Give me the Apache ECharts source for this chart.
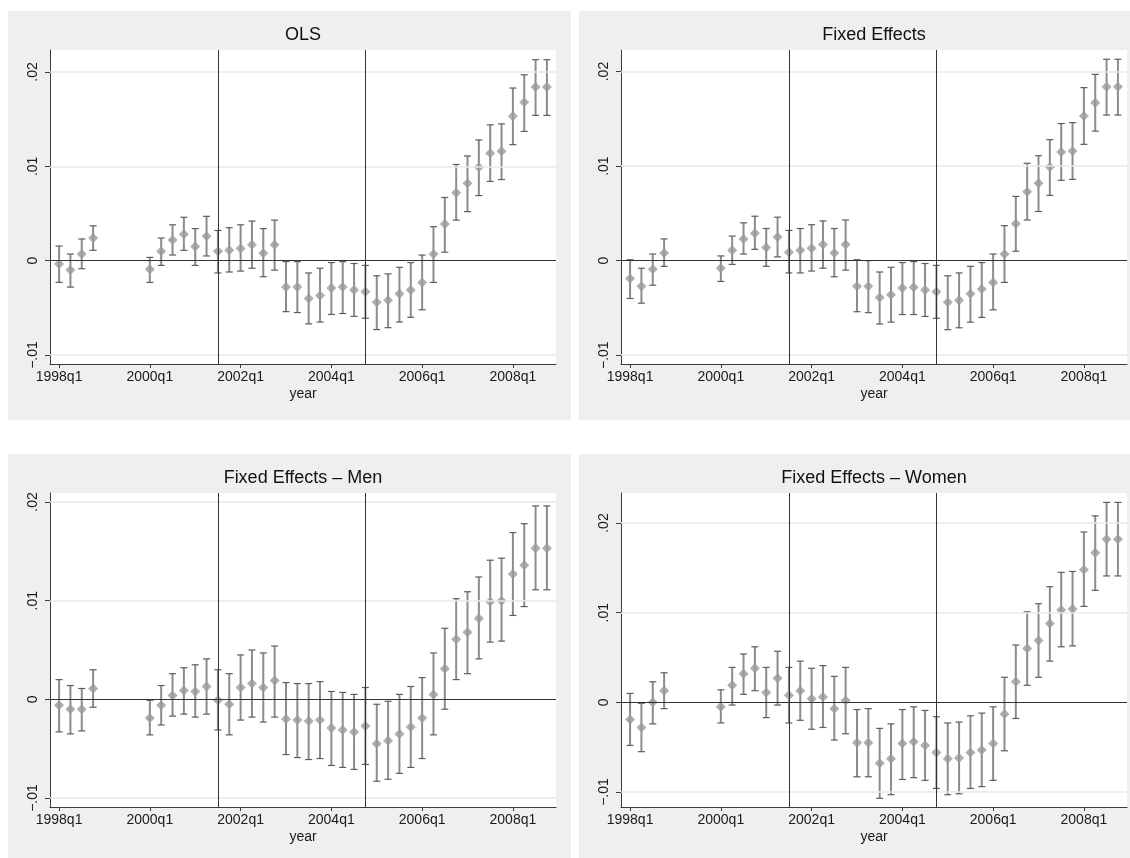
<!DOCTYPE html>
<html>
<head>
<meta charset="utf-8">
<title>Quarterly coefficients</title>
<script src="https://cdn.jsdelivr.net/npm/echarts@6/dist/echarts.min.js"></script>
<style>
  html, body { margin: 0; padding: 0; background: #ffffff; }
  #chart { width: 1130px; height: 858px; }
</style>
</head>
<body>
<div id="chart"></div>
<script>
// Quarters with estimates (1999 is not estimated)
const quarters = [
  '1998q1','1998q2','1998q3','1998q4',
  '2000q1','2000q2','2000q3','2000q4',
  '2001q1','2001q2','2001q3','2001q4',
  '2002q1','2002q2','2002q3','2002q4',
  '2003q1','2003q2','2003q3','2003q4',
  '2004q1','2004q2','2004q3','2004q4',
  '2005q1','2005q2','2005q3','2005q4',
  '2006q1','2006q2','2006q3','2006q4',
  '2007q1','2007q2','2007q3','2007q4',
  '2008q1','2008q2','2008q3','2008q4'
];

// Axis tick labels
const xTickLabels = ['1998q1','2000q1','2002q1','2004q1','2006q1','2008q1'];
const yTickValues = [-0.01, 0, 0.01, 0.02];
// Reference dates marked with vertical lines
const refQuarters = ['2001q3','2004q4'];

// OLS
const olsEst = [-0.00035,-0.001,0.0007,0.0024,
  -0.0009,0.001,0.0022,0.0028,0.0015,0.0026,0.001,0.0011,0.0013,0.0017,0.0008,0.0017,
  -0.0028,-0.0028,-0.004,-0.0037,-0.0029,-0.0028,-0.0031,-0.0033,-0.0044,-0.0042,-0.0035,-0.0031,
  -0.0023,0.0007,0.0039,0.0072,0.0082,0.0099,0.0114,0.0116,0.0153,0.0168,0.0184,0.0184];
const olsLo = [-0.0023,-0.0028,-0.00085,0.0011,
  -0.0023,-0.0005,0.0006,0.0011,-0.0005,0.0005,-0.0013,-0.0012,-0.0011,-0.0008,-0.0017,-0.001,
  -0.0054,-0.0055,-0.0067,-0.0065,-0.0057,-0.0056,-0.0059,-0.0061,-0.0073,-0.0071,-0.0065,-0.006,
  -0.0052,-0.0023,0.0009,0.0043,0.0052,0.0069,0.0084,0.0086,0.0123,0.0137,0.0154,0.0154];
const olsHi = [0.00155,0.0007,0.0023,0.0037,
  0.00035,0.0024,0.0038,0.0046,0.0034,0.0047,0.0032,0.0035,0.0038,0.0042,0.0034,0.0043,
  -0.0001,-0.0001,-0.0013,-0.0008,-0.0002,-0.0001,-0.0003,-0.0005,-0.0016,-0.0014,-0.0007,-0.0002,
  0.0006,0.0036,0.0067,0.0102,0.0111,0.0128,0.0144,0.0145,0.0183,0.0197,0.0213,0.0213];

// Fixed effects
const feEst = [-0.0019,-0.0027,-0.0009,0.0008,
  -0.0008,0.0011,0.0023,0.0029,0.0014,0.0025,0.0009,0.0011,0.0013,0.0017,0.0008,0.0017,
  -0.0027,-0.0027,-0.0039,-0.0036,-0.0029,-0.0028,-0.0031,-0.0033,-0.0044,-0.0042,-0.0035,-0.003,
  -0.0023,0.0007,0.0039,0.0073,0.0082,0.0099,0.0115,0.0116,0.0153,0.0167,0.0184,0.0184];
const feLo = [-0.004,-0.0045,-0.0026,-0.0006,
  -0.0022,-0.0004,0.0007,0.0012,-0.0006,0.0004,-0.0013,-0.0013,-0.0011,-0.0008,-0.0017,-0.001,
  -0.0054,-0.0055,-0.0067,-0.0065,-0.0057,-0.0057,-0.0059,-0.0061,-0.0073,-0.0071,-0.0065,-0.006,
  -0.0052,-0.0023,0.001,0.0043,0.0052,0.0069,0.0085,0.0086,0.0123,0.0137,0.0154,0.0154];
const feHi = [0.0001,-0.0008,0.0007,0.0023,
  0.0005,0.0026,0.004,0.0047,0.0034,0.0046,0.0032,0.0034,0.0038,0.0042,0.0034,0.0043,
  0.0001,0,-0.0012,-0.0007,-0.0002,-0.0001,-0.0003,-0.0005,-0.0016,-0.0013,-0.0006,-0.0002,
  0.0007,0.0037,0.0068,0.0103,0.0111,0.0128,0.0145,0.0146,0.0183,0.0197,0.0213,0.0213];

// Fixed effects, men
const menEst = [-0.0006,-0.001,-0.001,0.0011,
  -0.0019,-0.0006,0.0004,0.0009,0.0008,0.0013,-0.0001,-0.0005,0.0012,0.0016,0.0012,0.0019,
  -0.002,-0.0021,-0.0022,-0.0021,-0.0029,-0.0031,-0.0033,-0.0027,-0.0045,-0.0042,-0.0035,-0.0028,
  -0.0019,0.0005,0.0031,0.0061,0.0068,0.0082,0.0099,0.01,0.0127,0.0136,0.0153,0.0153];
const menLo = [-0.0033,-0.0035,-0.0032,-0.0008,
  -0.0036,-0.0026,-0.0017,-0.0015,-0.0018,-0.0015,-0.0031,-0.0036,-0.0021,-0.0018,-0.0023,-0.0018,
  -0.0056,-0.0059,-0.0061,-0.006,-0.0067,-0.0069,-0.0071,-0.0066,-0.0083,-0.0081,-0.0075,-0.0069,
  -0.006,-0.0036,-0.001,0.002,0.0026,0.0041,0.0058,0.0059,0.0085,0.0094,0.0111,0.0111];
const menHi = [0.002,0.0014,0.0011,0.003,
  -0.0001,0.0014,0.0026,0.0032,0.0035,0.0041,0.003,0.0026,0.0045,0.005,0.0047,0.0054,
  0.0017,0.0016,0.0016,0.0018,0.0008,0.0007,0.0005,0.0012,-0.0005,-0.0002,0.0005,0.0013,
  0.0022,0.0047,0.0072,0.0102,0.0109,0.0124,0.0141,0.0143,0.0169,0.0178,0.0196,0.0196];

// Fixed effects, women
const womenEst = [-0.0019,-0.0028,0,0.0013,
  -0.0005,0.0019,0.0032,0.0038,0.0011,0.0027,0.0008,0.0013,0.0004,0.0006,-0.0007,0.0002,
  -0.0045,-0.0045,-0.0068,-0.0063,-0.0046,-0.0044,-0.0048,-0.0056,-0.0063,-0.0062,-0.0056,-0.0053,
  -0.0046,-0.0013,0.0023,0.006,0.0069,0.0088,0.0103,0.0104,0.0148,0.0167,0.0182,0.0182];
const womenLo = [-0.0048,-0.0055,-0.0024,-0.0007,
  -0.0023,-0.0003,0.0009,0.0013,-0.0017,-0.0003,-0.0023,-0.002,-0.003,-0.0028,-0.0042,-0.0035,
  -0.0083,-0.0083,-0.0107,-0.0103,-0.0086,-0.0084,-0.0087,-0.0096,-0.0103,-0.0102,-0.0096,-0.0094,
  -0.0087,-0.0054,-0.0018,0.0019,0.0028,0.0046,0.0062,0.0063,0.0107,0.0125,0.0141,0.0141];
const womenHi = [0.001,-0.0001,0.0023,0.0033,
  0.0014,0.0039,0.0054,0.0062,0.0039,0.0057,0.0039,0.0046,0.0038,0.0041,0.0029,0.0039,
  -0.0008,-0.0007,-0.0029,-0.0024,-0.0008,-0.0005,-0.0009,-0.0016,-0.0023,-0.0022,-0.0015,-0.0012,
  -0.0005,0.0028,0.0064,0.0101,0.011,0.0129,0.0145,0.0146,0.019,0.0208,0.0223,0.0223];

const panelTitles = ['OLS', 'Fixed Effects', 'Fixed Effects \u2013 Men', 'Fixed Effects \u2013 Women'];

// quarter label -> quarters since 1998q1 (value on the time axis)
function qIndex(label) {
  const y = parseInt(label.slice(0, 4), 10);
  const q = parseInt(label.slice(5), 10);
  return (y - 1998) * 4 + (q - 1);
}
function qLabel(v) {
  const y = 1998 + Math.floor(v / 4);
  return y + 'q' + (v % 4 + 1);
}
function yFmt(v) {
  if (Math.abs(v) < 1e-12) return '0';
  const s = String(Math.abs(Math.round(v * 1000) / 1000)).replace(/^0/, '');
  return (v < 0 ? '\u2212' : '') + s;
}

const panels = [
  { est: olsEst, lo: olsLo, hi: olsHi },
  { est: feEst, lo: feLo, hi: feHi },
  { est: menEst, lo: menLo, hi: menHi },
  { est: womenEst, lo: womenLo, hi: womenHi }
];

// panel frames (outer grey boxes) and plot regions
const frames = [
  { x: 8,   y: 11,  w: 563, h: 409 },
  { x: 579, y: 11,  w: 551, h: 409 },
  { x: 8,   y: 454, w: 563, h: 404 },
  { x: 579, y: 454, w: 551, h: 404 }
];
const plots = [
  { left: 50,  top: 50,  width: 506, height: 314, ymin: -0.01095, ymax: 0.02233 },
  { left: 621, top: 50,  width: 506, height: 314, ymin: -0.01093, ymax: 0.02228 },
  { left: 50,  top: 493, width: 506, height: 314, ymin: -0.01091, ymax: 0.02091 },
  { left: 621, top: 493, width: 506, height: 314, ymin: -0.01167, ymax: 0.02335 }
];

const xTickVals = xTickLabels.map(qIndex);
const textColor = '#1a1a1a';
const axisColor = '#3c3c3c';

const grid = [], xAxis = [], yAxis = [], series = [], title = [];

plots.forEach((p, i) => {
  grid.push({
    left: p.left, top: p.top, width: p.width, height: p.height,
    show: true, backgroundColor: '#ffffff', borderWidth: 0
  });
  title.push({
    text: panelTitles[i],
    left: p.left + p.width / 2, top: frames[i].y + 15.5,
    textAlign: 'center', padding: 0,
    textStyle: { fontFamily: 'Liberation Sans', fontSize: 18, fontWeight: 'normal', color: '#111' }
  });
  xAxis.push({
    gridIndex: i, type: 'value', min: -0.8, max: 43.8,
    name: 'year', nameLocation: 'middle', nameGap: 23,
    nameTextStyle: { fontFamily: 'Liberation Sans', fontSize: 14, color: textColor },
    axisLine: { show: true, onZero: false, lineStyle: { color: axisColor, width: 1 } },
    axisTick: { show: true, length: 4, customValues: xTickVals, lineStyle: { color: axisColor } },
    axisLabel: {
      show: true, customValues: xTickVals, margin: 6,
      formatter: v => qLabel(Math.round(v)),
      fontFamily: 'Liberation Sans', fontSize: 14, color: textColor
    },
    splitLine: { show: false }
  });
  yAxis.push({
    gridIndex: i, type: 'value', min: p.ymin, max: p.ymax,
    axisLine: { show: true, onZero: false, lineStyle: { color: axisColor, width: 1 } },
    axisTick: { show: true, length: 5, customValues: yTickValues, lineStyle: { color: axisColor } },
    axisLabel: {
      show: true, customValues: yTickValues, rotate: 90, margin: 10,
      formatter: yFmt,
      fontFamily: 'Liberation Sans', fontSize: 14, color: textColor
    },
    splitLine: { show: false }
  });

  const d = panels[i];
  // grid lines
  series.push({
    type: 'line', xAxisIndex: i, yAxisIndex: i, data: [], silent: true, z: 1,
    markLine: {
      silent: true, symbol: 'none', animation: false,
      label: { show: false },
      data: yTickValues.filter(v => v !== 0).map(v => ({
        yAxis: v, lineStyle: { color: '#e8e8e8', width: 1.5, type: 'solid' }
      }))
    }
  });
  // zero line and reference quarters
  series.push({
    type: 'line', xAxisIndex: i, yAxisIndex: i, data: [], silent: true, z: 2,
    markLine: {
      silent: true, symbol: 'none', animation: false,
      label: { show: false },
      lineStyle: { color: '#333333', width: 1, type: 'solid' },
      data: [{ yAxis: 0 }].concat(refQuarters.map(q => ({ xAxis: qIndex(q) })))
    }
  });
  // confidence intervals (capped spikes)
  series.push({
    type: 'custom', xAxisIndex: i, yAxisIndex: i, z: 3, silent: true,
    data: quarters.map((q, k) => [qIndex(q), d.lo[k], d.hi[k]]),
    encode: { x: 0, y: [1, 2] },
    renderItem: (params, api) => {
      const t = api.value(0);
      const top = api.coord([t, api.value(2)]);
      const bot = api.coord([t, api.value(1)]);
      const hw = 3.5;
      return {
        type: 'group',
        children: [
          { type: 'line', shape: { x1: top[0], y1: top[1], x2: bot[0], y2: bot[1] },
            style: { stroke: '#8c8c8c', lineWidth: 2 } },
          { type: 'line', shape: { x1: top[0] - hw, y1: top[1], x2: top[0] + hw, y2: top[1] },
            style: { stroke: '#5e5e5e', lineWidth: 1.2 } },
          { type: 'line', shape: { x1: bot[0] - hw, y1: bot[1], x2: bot[0] + hw, y2: bot[1] },
            style: { stroke: '#5e5e5e', lineWidth: 1.2 } }
        ]
      };
    }
  });
  // point estimates
  series.push({
    type: 'scatter', xAxisIndex: i, yAxisIndex: i, z: 4, silent: true,
    symbol: 'diamond', symbolSize: 10,
    itemStyle: { color: '#9a9a9a' },
    data: quarters.map((q, k) => [qIndex(q), d.est[k]])
  });
});

const chart = echarts.init(document.getElementById('chart'), null, { renderer: 'canvas' });
chart.setOption({
  animation: false,
  backgroundColor: '#ffffff',
  graphic: frames.map(f => ({
    type: 'rect', silent: true, z: -10,
    shape: { x: f.x, y: f.y, width: f.w, height: f.h },
    style: { fill: '#efefef' }
  })),
  title, grid, xAxis, yAxis, series
});
</script>
</body>
</html>
